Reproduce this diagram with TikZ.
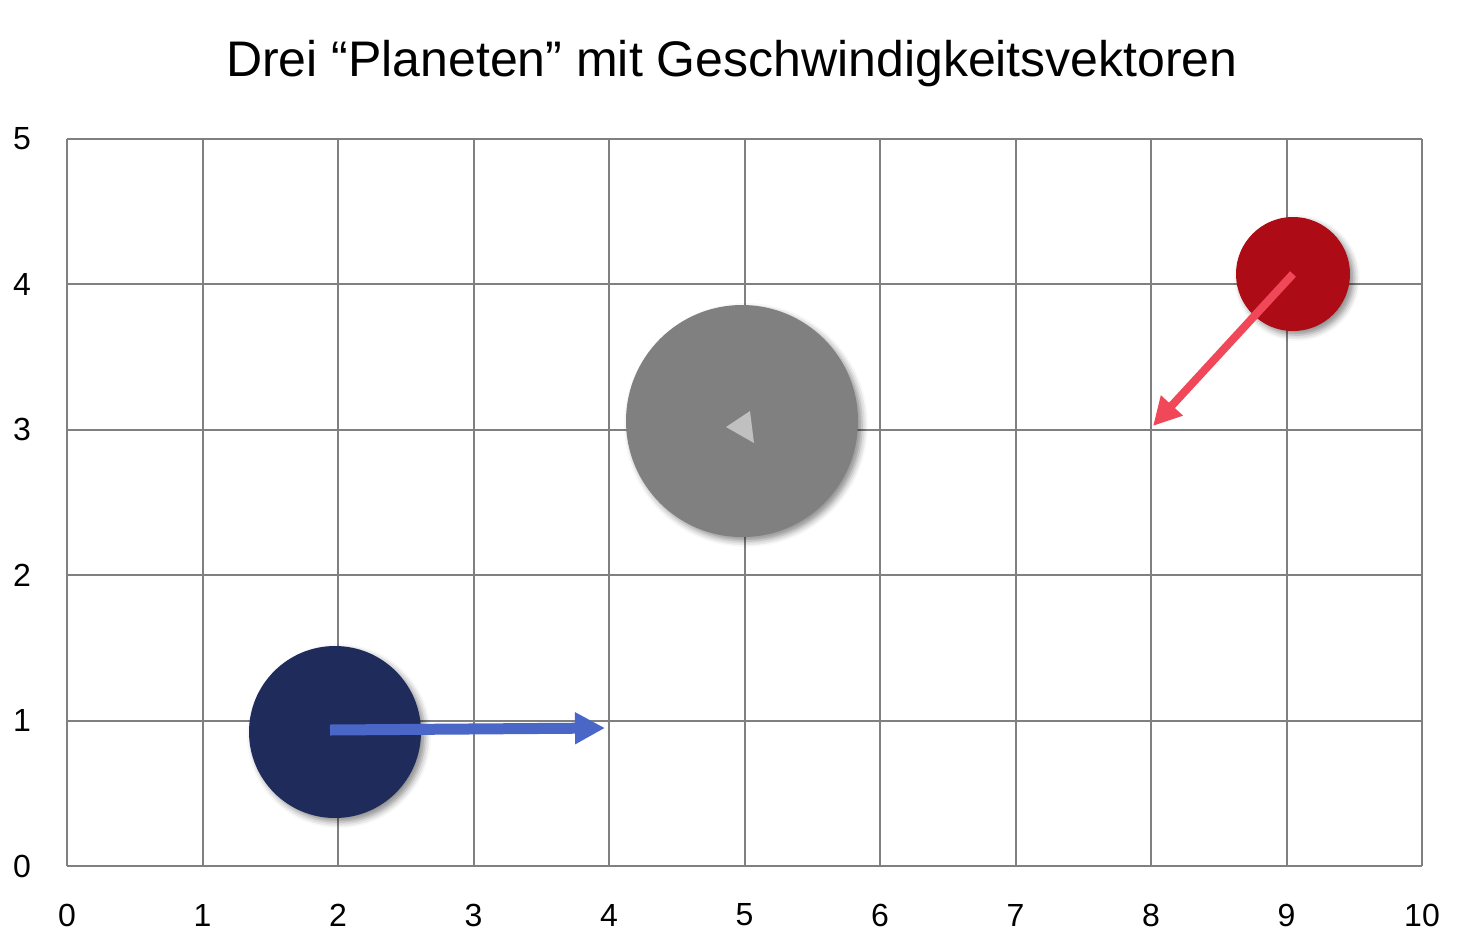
\documentclass[tikz,border=0pt]{standalone}
\usepackage{fontspec}
\setmainfont{Liberation Sans}
\usetikzlibrary{arrows.meta,shadows.blur}
\definecolor{gridc}{HTML}{808080}
\definecolor{planetblue}{HTML}{1F2B5B}
\definecolor{arrowblue}{HTML}{4A66C6}
\definecolor{planetgrey}{HTML}{808080}
\definecolor{trigrey}{HTML}{C0C0C0}
\definecolor{planetred}{HTML}{AD0B16}
\definecolor{arrowred}{HTML}{F04858}
\tikzset{
  gridline/.style={draw=gridc, line width=1pt},
  ticklabel/.style={font=\fontsize{16}{18}\selectfont, inner sep=0pt},
  planet/.style={circle, inner sep=0pt, draw=none,
    blur shadow={shadow xshift=2pt, shadow yshift=-2pt, shadow blur radius=3pt, shadow opacity=45}},
  velocity/.style={line width=#1, line cap=butt},
}
\begin{document}
\begin{tikzpicture}[x=0.5pt,y=-0.5pt]
\useasboundingbox (0,0) rectangle (1464,949);
% title
\node[font=\fontsize{25}{30}\selectfont, inner sep=0pt] (title) at (732,64) {Drei “Planeten” mit Geschwindigkeitsvektoren};
% grid
\foreach \i in {0,...,10} {
  \draw[gridline] ({67+135.5*\i},139) -- ({67+135.5*\i},866);
  \node[ticklabel] (xl\i) at ({67+135.5*\i},915) {\i};
}
\foreach \j in {0,...,5} {
  \draw[gridline] (67,{866-145.4*\j}) -- (1422,{866-145.4*\j});
  \node[ticklabel] (yl\j) at (22,{866-145.4*\j}) {\j};
}
% planets
\node[planet, fill=planetgrey, minimum size=116pt] (grey) at (742,421) {};
\fill[trigrey] (726,427) -- (750,411) -- (754,443) -- cycle;
\node[planet, fill=planetblue, minimum size=86pt] (blue) at (335,732) {};
\node[planet, fill=planetred, minimum size=57pt] (red) at (1293,274) {};
% velocity vectors
\coordinate (bluestart) at (330,730);
\coordinate (bluetip) at (605,728);
\draw[velocity=5.5pt, arrowblue, -{Triangle[length=15pt,width=15pt]}] (bluestart) -- (bluetip);
\coordinate (redtip) at (1153,426);
\draw[velocity=4pt, arrowred, -{Triangle[length=14pt,width=14pt]}] (red.center) -- (redtip);
\end{tikzpicture}
\end{document}
